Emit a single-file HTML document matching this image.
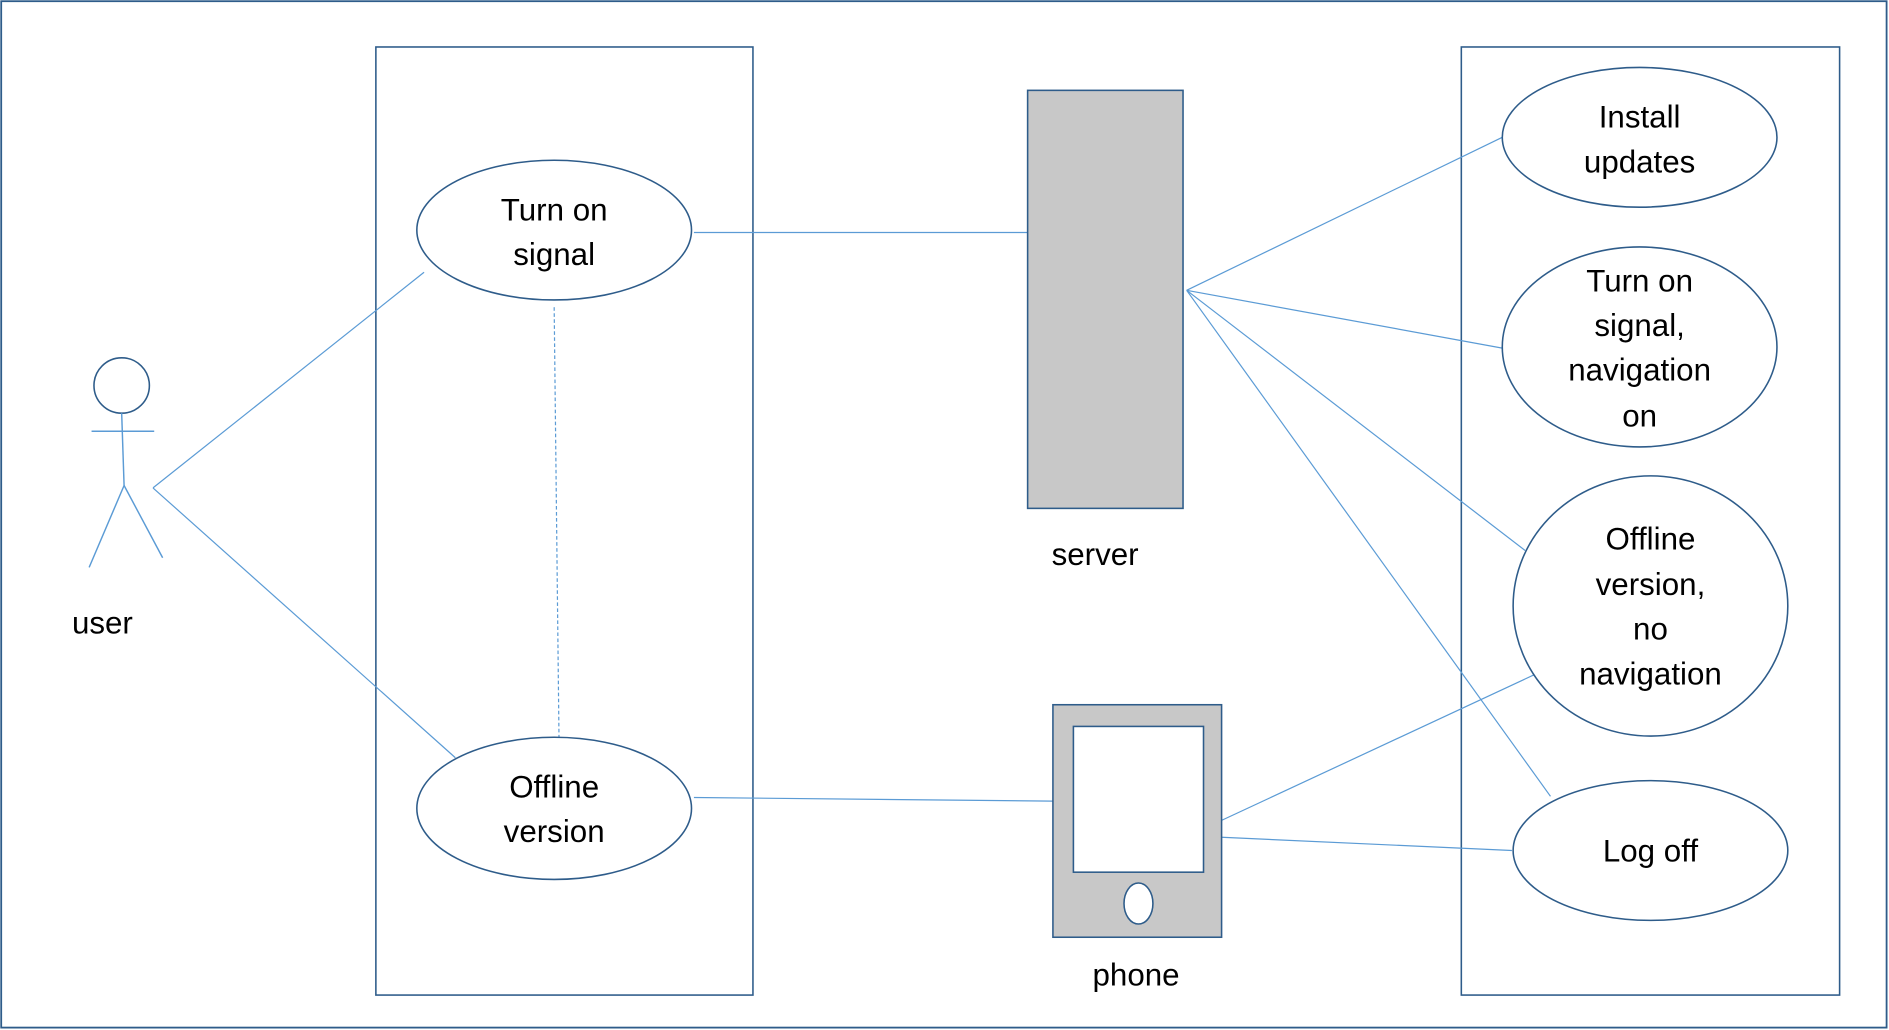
<!DOCTYPE html>
<html><head><meta charset="utf-8"><style>html,body{margin:0;padding:0;background:#fff}svg{display:block}</style></head>
<body>
<svg width="1889" height="1030" viewBox="0 0 1568 855" preserveAspectRatio="none" xmlns="http://www.w3.org/2000/svg" font-family="Liberation Sans, sans-serif" font-size="26" fill="none">
<rect x="1" y="1" width="1565" height="852" stroke="#2e5c8a" stroke-width="1.5" fill="#fff"/>
<rect x="312" y="39" width="313" height="787" stroke="#2e5c8a" stroke-width="1.3"/>
<rect x="1213" y="39" width="314" height="787" stroke="#2e5c8a" stroke-width="1.3"/>
<g stroke="#5b9bd5" stroke-width="1">
<line x1="127" y1="405" x2="352" y2="226"/>
<line x1="127" y1="405" x2="378" y2="629"/>
<line x1="576" y1="193" x2="857" y2="193"/>
<line x1="460" y1="255" x2="464" y2="612" stroke-dasharray="3,2"/>
<line x1="576" y1="662" x2="874" y2="665"/>
<line x1="985" y1="241" x2="1247" y2="114"/>
<line x1="985" y1="241" x2="1247" y2="289"/>
<line x1="985" y1="241" x2="1266" y2="457"/>
<line x1="985" y1="241" x2="1287" y2="661"/>
<line x1="1014" y1="681" x2="1278" y2="558"/>
<line x1="1014" y1="695" x2="1255" y2="706"/>
</g>
<g stroke="#2e5c8a" stroke-width="1.3" fill="#fff">
<ellipse cx="460" cy="191" rx="114" ry="58"/>
<ellipse cx="460" cy="671" rx="114" ry="59"/>
<ellipse cx="1361" cy="114" rx="114" ry="58"/>
<ellipse cx="1361" cy="288" rx="114" ry="83"/>
<ellipse cx="1370" cy="503" rx="114" ry="108"/>
<ellipse cx="1370" cy="706" rx="114" ry="58"/>
<rect x="853" y="75" width="129" height="347" fill="#c8c8c8"/>
<rect x="874" y="585" width="140" height="193" fill="#c8c8c8"/>
<rect x="891" y="603" width="108" height="121"/>
<ellipse cx="945" cy="750" rx="12" ry="17"/>
<circle cx="101" cy="320" r="23"/>
</g>
<g stroke="#5b9bd5" stroke-width="1.2">
<line x1="101" y1="343" x2="103" y2="403"/>
<line x1="76" y1="358" x2="128" y2="358"/>
<line x1="103" y1="403" x2="74" y2="471"/>
<line x1="103" y1="403" x2="135" y2="463"/>
</g>
<g fill="#000" text-anchor="middle">
<text x="460" y="183">Turn on</text><text x="460" y="220">signal</text>
<text x="460" y="662">Offline</text><text x="460" y="699">version</text>
<text x="1361" y="106">Install</text><text x="1361" y="143">updates</text>
<text x="1361" y="242">Turn on</text><text x="1361" y="279">signal,</text><text x="1361" y="316">navigation</text><text x="1361" y="354">on</text>
<text x="1370" y="456">Offline</text><text x="1370" y="494">version,</text><text x="1370" y="531">no</text><text x="1370" y="568">navigation</text>
<text x="1370" y="715">Log off</text>
<text x="909" y="469">server</text>
<text x="943" y="818">phone</text>
<text x="85" y="526">user</text>
</g>
</svg>
</body></html>
